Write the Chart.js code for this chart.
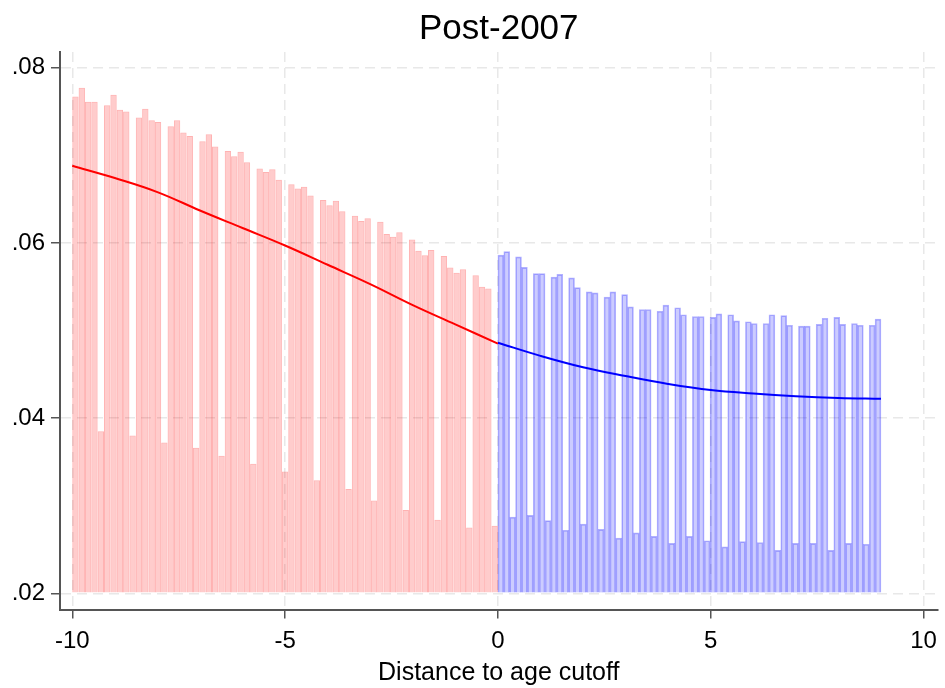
<!DOCTYPE html>
<html>
<head>
<meta charset="utf-8">
<title>Post-2007</title>
<script src="https://cdn.jsdelivr.net/npm/chart.js@4.4.0/dist/chart.umd.min.js"></script>
<style>
    body { margin: 0; background: #ffffff; }
    #wrap { width: 945px; height: 688px; }
</style>
</head>
<body>
<div id="wrap"><canvas id="myChart" width="945" height="688"></canvas></div>
<script>
let myChart = null;

// Bins on each side of the cutoff (years)
const redStart = -10, redEnd = 0;
const blueStart = 0, blueEnd = 9;

// Bar heights, left of the cutoff
const redValues = [
    0.0767, 0.0777, 0.0761, 0.0761, 0.0385,
    0.0757, 0.0769, 0.0752, 0.0750, 0.0380,
    0.0743, 0.0753, 0.0740, 0.0738, 0.0372,
    0.0733, 0.0740, 0.0726, 0.0722, 0.0366,
    0.0716, 0.0724, 0.0710, 0.0357,
    0.0705, 0.0699, 0.0704, 0.0692, 0.0348,
    0.0685, 0.0681, 0.0684, 0.0672, 0.0339,
    0.0667, 0.0662, 0.0664, 0.0654, 0.0329,
    0.0649, 0.0643, 0.0648, 0.0636, 0.0319,
    0.0631, 0.0625, 0.0628, 0.0306,
    0.0624, 0.0610, 0.0607, 0.0612, 0.0295,
    0.0604, 0.0591, 0.0586, 0.0592, 0.0284,
    0.0585, 0.0572, 0.0566, 0.0570, 0.0275,
    0.0563, 0.0550, 0.0548, 0.0277
];

// Bar heights, right of the cutoff
const blueValues = [
    0.0586, 0.0590, 0.0287,
    0.0584, 0.0572, 0.0289,
    0.0565, 0.0565, 0.0283,
    0.0561, 0.0564, 0.0272,
    0.0560, 0.0549, 0.0279,
    0.0544, 0.0543, 0.0273,
    0.0538, 0.0544, 0.0263,
    0.0541, 0.0527, 0.0269,
    0.0524, 0.0524, 0.0265,
    0.0522, 0.0529, 0.0257,
    0.0526, 0.0518, 0.0265,
    0.0516, 0.0516, 0.0260,
    0.0515, 0.0519, 0.0253,
    0.0518, 0.0511, 0.0259,
    0.0510, 0.0508, 0.0258,
    0.0508, 0.0518, 0.0249,
    0.0517, 0.0506, 0.0257,
    0.0505, 0.0505, 0.0257,
    0.0507, 0.0514, 0.0249,
    0.0515, 0.0507, 0.0257,
    0.0508, 0.0506, 0.0256,
    0.0506, 0.0513
];

// Fitted curves
const redFitX = [-10, -9, -8, -7, -6, -5, -4, -3, -2, -1, 0];
const redFitY = [0.0688, 0.0674, 0.0658, 0.0637, 0.0617, 0.0597, 0.0575, 0.0553, 0.0529, 0.0507, 0.0485];
const blueFitX = [0, 1, 2, 3, 4, 5, 6, 7, 8, 9];
const blueFitY = [0.0486, 0.0471, 0.0458, 0.0448, 0.0439, 0.0432, 0.0428, 0.0425, 0.0423, 0.0422];

const xTicks = [-10, -5, 0, 5, 10];
const yTicks = [0.02, 0.04, 0.06, 0.08];

const fontFamily = '"Liberation Sans", Arial, Helvetica, sans-serif';

// Bar centres for equal-width bins
function binPoints(values, start, end) {
    const width = (end - start) / values.length;
    return values.map((v, i) => ({ x: start + (i + 0.5) * width, y: v }));
}

function linePoints(xs, ys) {
    return xs.map((x, i) => ({ x: x, y: ys[i] }));
}

function crearGrafico() {
    const ctx = document.getElementById('myChart').getContext('2d');

    // red bins are a bit wider than blue ones
    const redWidth = (redEnd - redStart) / redValues.length;
    const blueWidth = (blueEnd - blueStart) / blueValues.length;

    if (myChart) {
        myChart.destroy();
    }

    const gridOpts = {
        color: '#e8e8e8',
        lineWidth: 1.5,
        tickLength: 9,
        tickColor: '#555555',
        tickWidth: 1.5,
        tickBorderDash: []
    };

    myChart = new Chart(ctx, {
        type: 'bar',
        data: {
            datasets: [
                {
                    type: 'line',
                    data: linePoints(redFitX, redFitY),
                    borderColor: '#ff0000',
                    borderWidth: 2,
                    pointRadius: 0,
                    tension: 0.4,
                    order: 0
                },
                {
                    type: 'line',
                    data: linePoints(blueFitX, blueFitY),
                    borderColor: '#0000ff',
                    borderWidth: 2,
                    pointRadius: 0,
                    tension: 0.4,
                    order: 0
                },
                {
                    data: binPoints(redValues, redStart, redEnd),
                    backgroundColor: 'rgba(255, 0, 0, 0.2)',
                    borderColor: 'rgba(255, 0, 0, 0.3)',
                    borderWidth: 1,
                    base: 0.02,
                    grouped: false,
                    barPercentage: 1,
                    categoryPercentage: redWidth / blueWidth,
                    order: 1
                },
                {
                    data: binPoints(blueValues, blueStart, blueEnd),
                    backgroundColor: 'rgba(0, 0, 255, 0.2)',
                    borderColor: 'rgba(0, 0, 255, 0.3)',
                    borderWidth: 1,
                    base: 0.02,
                    grouped: false,
                    barPercentage: 1,
                    categoryPercentage: 1,
                    order: 1
                }
            ]
        },
        options: {
            responsive: false,
            animation: false,
            layout: {
                padding: { left: 0, right: 5, top: 0, bottom: 0 }
            },
            plugins: {
                legend: { display: false },
                tooltip: { enabled: false },
                title: {
                    display: true,
                    text: 'Post-2007',
                    fullSize: false,
                    color: '#000000',
                    font: { family: fontFamily, size: 35, weight: 'normal' },
                    padding: { top: 8, bottom: 2 }
                }
            },
            scales: {
                x: {
                    type: 'linear',
                    min: -10.288,
                    max: 10.328,
                    offset: false,
                    z: 1,
                    afterBuildTicks: function(scale) {
                        scale.ticks = xTicks.map(v => ({ value: v }));
                    },
                    afterFit: function(scale) {
                        scale.height = 78.5;
                    },
                    ticks: {
                        color: '#000000',
                        font: { family: fontFamily, size: 24 },
                        padding: 8,
                        maxRotation: 0,
                        autoSkip: false
                    },
                    grid: Object.assign({ offset: false }, gridOpts),
                    border: { color: '#555555', width: 2, dash: [10, 6] },
                    title: {
                        display: true,
                        text: 'Distance to age cutoff',
                        color: '#000000',
                        font: { family: fontFamily, size: 25 },
                        padding: { top: 0, bottom: 0 }
                    }
                },
                y: {
                    type: 'linear',
                    min: 0.01815,
                    max: 0.08179,
                    z: 1,
                    afterBuildTicks: function(scale) {
                        scale.ticks = yTicks.map(v => ({ value: v }));
                    },
                    afterFit: function(scale) {
                        scale.width = 60;
                    },
                    ticks: {
                        color: '#000000',
                        font: { family: fontFamily, size: 24 },
                        padding: 6,
                        callback: function(value) {
                            return value.toFixed(2).replace(/^0/, '');
                        }
                    },
                    grid: gridOpts,
                    border: { color: '#555555', width: 2, dash: [10, 6] }
                }
            }
        }
    });
}

document.addEventListener('DOMContentLoaded', function() {
    crearGrafico();
});
</script>
</body>
</html>
